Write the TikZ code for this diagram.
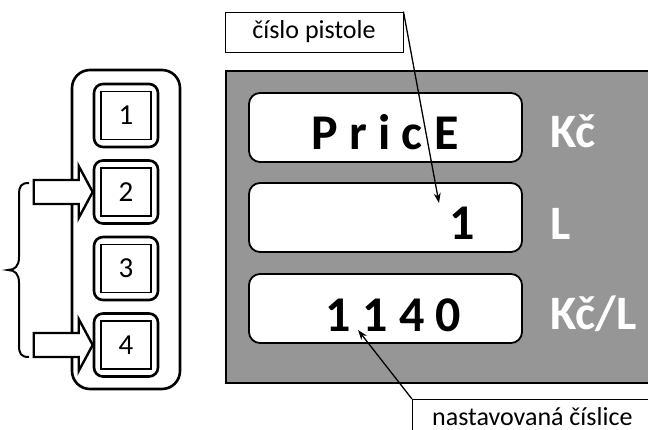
\documentclass[tikz,border=0pt]{standalone}
\usepackage{fontspec}
\setmainfont{Carlito}
\usetikzlibrary{arrows.meta,calc}
\definecolor{panelgray}{RGB}{150,150,150}
\begin{document}
\begin{tikzpicture}[x=1pt,y=-1pt,
  btnouter/.style={draw,line width=2.6pt,rounded corners=9pt,minimum width=64pt,minimum height=63pt,inner sep=0pt,fill=white},
  btninner/.style={draw,line width=1.6pt,minimum width=50pt,minimum height=48pt,inner sep=0pt,font=\fontsize{29}{29}\selectfont},
  blk/.style={draw,line width=2.4pt,fill=white,line join=miter},
  dispbox/.style={draw,line width=1.8pt,rounded corners=11pt,fill=white,minimum width=273pt,minimum height=69pt,inner sep=0pt},
  bigtxt/.style={inner sep=0pt,font=\fontsize{50}{50}\selectfont\bfseries},
  unittxt/.style={inner sep=0pt,text=white,font=\fontsize{48}{48}\selectfont\bfseries},
  lbl/.style={draw,line width=0.9pt,fill=white,inner sep=0pt,font=\fontsize{26}{30}\selectfont},
  ptr/.style={line width=1.3pt,-{Stealth[length=10pt,width=7pt]}}
]
\useasboundingbox (0,0) rectangle (648,430);
\clip (0,0) rectangle (648,430);

% left keypad
\node[draw,line width=2.6pt,rounded corners=18pt,minimum width=108pt,minimum height=319pt,inner sep=0pt] (keypad) at (126,229.5) {};
\foreach \i/\y in {1/115.5,2/192,3/268.5,4/345}{
  \node[btnouter] (b\i) at (126,\y) {};
  \node[btninner] (n\i) at (126,\y) {\i};
}

% block arrows
\draw[blk] (b2.west) -- ++(-14,-26) -- ++(0,14) -- ++(-45,0) -- ++(0,24) -- ++(45,0) -- ++(0,14) -- cycle;
\draw[blk] (b4.west) -- ++(-14,-26) -- ++(0,14) -- ++(-45,0) -- ++(0,24) -- ++(45,0) -- ++(0,14) -- cycle;

% brace
\draw[line width=2pt] (29,183) .. controls (21,183) and (19,186) .. (19,195) -- (19,257)
  .. controls (19,266) and (15,270) .. (8,270) .. controls (15,270) and (19,274) .. (19,283)
  -- (19,345) .. controls (19,354) and (21,357) .. (29,357);

% display panel
\node[draw,line width=1.6pt,fill=panelgray,minimum width=440pt,minimum height=312pt,inner sep=0pt,anchor=north west] (disp) at (225,70) {};
\node[dispbox] (d1) at (385.5,127.5) {};
\node[dispbox] (d2) at (385.5,217.5) {};
\node[dispbox] (d3) at (385.5,308.5) {};
\node[bigtxt,anchor=base] (t1) at (385,150) {P r i c E};
\node[bigtxt,anchor=base east] (t2) at (475,240) {1};
\node[bigtxt,anchor=base] (t3) at (393.5,332) {1 1 4 0};
\node[unittxt,anchor=base west] (u1) at (550,148) {Kč};
\node[unittxt,anchor=base west] (u2) at (550,240) {L};
\node[unittxt,anchor=base west] (u3) at (550,330) {Kč/L};

% callouts
\node[lbl,minimum width=178pt,minimum height=40pt] (lab1) at (314,32) {číslo pistole};
\node[lbl,minimum width=260pt,minimum height=60pt,anchor=north west] (lab2) at (412,399) {};
\node[inner sep=0pt,font=\fontsize{26}{30}\selectfont,anchor=base west] (lab2t) at (432,425) {nastavovaná číslice};
\coordinate (tip1) at (439,203);
\coordinate (tip2) at (358,330);
\draw[ptr] (lab1.north east) -- (tip1);
\draw[ptr] (lab2.north west) -- (tip2);
\end{tikzpicture}
\end{document}
